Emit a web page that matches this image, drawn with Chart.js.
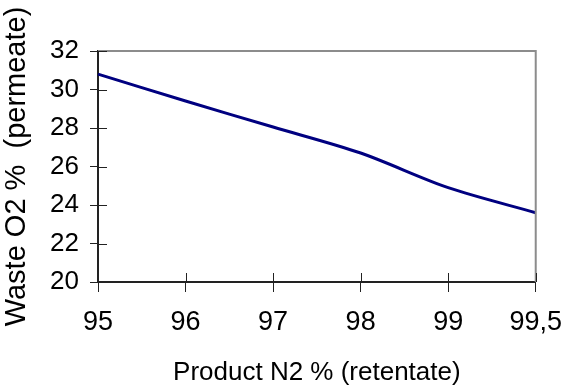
<!DOCTYPE html>
<html>
<head>
<meta charset="utf-8">
<script src="https://cdn.jsdelivr.net/npm/chart.js@4/dist/chart.umd.min.js"></script>
<style>
  html, body { margin: 0; padding: 0; background: #fff; }
  #wrap { width: 576px; height: 390px; }
</style>
</head>
<body>
<div id="wrap"><canvas id="chart" width="576" height="390"></canvas></div>
<script>
const purity = ['95', '96', '97', '98', '99', '99,5']
const wasteO2 = [30.8, 29.4, 28.05, 26.7, 24.9, 23.6]
const yMin = 20
const yMax = 32
const yStep = 2

const FONT = "'Liberation Sans', Arial, sans-serif"

// inner half of the tick marks + grey top/right frame
const frame = {
    id: 'frame',
    afterDraw(chart) {
        const { ctx, chartArea: a, scales } = chart
        ctx.save()
        ctx.strokeStyle = '#8c8c8c'
        ctx.lineWidth = 2
        ctx.beginPath()
        ctx.moveTo(a.left, a.top)
        ctx.lineTo(a.right, a.top)
        ctx.lineTo(a.right, a.bottom)
        ctx.stroke()

        ctx.strokeStyle = '#222'
        ctx.lineWidth = 1
        ctx.beginPath()
        scales.y.ticks.forEach((t, i) => {
            const y = Math.round(scales.y.getPixelForTick(i)) + 0.5
            ctx.moveTo(a.left, y)
            ctx.lineTo(a.left + 9, y)
        })
        scales.x.ticks.forEach((t, i) => {
            const x = Math.round(scales.x.getPixelForTick(i)) + 0.5
            ctx.moveTo(x, a.bottom)
            ctx.lineTo(x, a.bottom - 9)
        })
        ctx.stroke()
        ctx.restore()
    }
}

window.onload = () => {
    const el = document.querySelector('#chart')

    new Chart(el, {
        type: 'line',
        data: {
            labels: purity,
            datasets: [{
                data: wasteO2,
                borderColor: '#000080',
                borderWidth: 3,
                pointRadius: 0,
                tension: 0.3,
                fill: false
            }]
        },
        options: {
            responsive: false,
            animation: false,
            layout: { padding: { top: 51, right: 28, left: 0, bottom: 0 } },
            plugins: { legend: { display: false }, tooltip: { enabled: false } },
            scales: {
                x: {
                    offset: false,
                    afterFit: s => { s.height = 108 },
                    grid: { drawOnChartArea: false, tickLength: 10, color: '#222', tickWidth: 1 },
                    border: { color: '#222', width: 2 },
                    ticks: { color: '#000', padding: 14, maxRotation: 0, font: { family: FONT, size: 27 } },
                    title: {
                        display: true,
                        text: 'Product N2 % (retentate)',
                        color: '#000',
                        font: { family: FONT, size: 26 },
                        padding: { top: 0, bottom: 2 }
                    }
                },
                y: {
                    min: yMin,
                    max: yMax,
                    afterFit: s => { s.width = 98 },
                    grid: { drawOnChartArea: false, tickLength: 8, color: '#222', tickWidth: 1 },
                    border: { color: '#222', width: 2 },
                    ticks: { stepSize: yStep, color: '#000', padding: 11, font: { family: FONT, size: 26 } },
                    title: {
                        display: true,
                        text: 'Waste O2 %  (permeate)',
                        color: '#000',
                        font: { family: FONT, size: 29 },
                        padding: { top: 0, bottom: 2 }
                    }
                }
            }
        },
        plugins: [frame]
    })
}
</script>
</body>
</html>
